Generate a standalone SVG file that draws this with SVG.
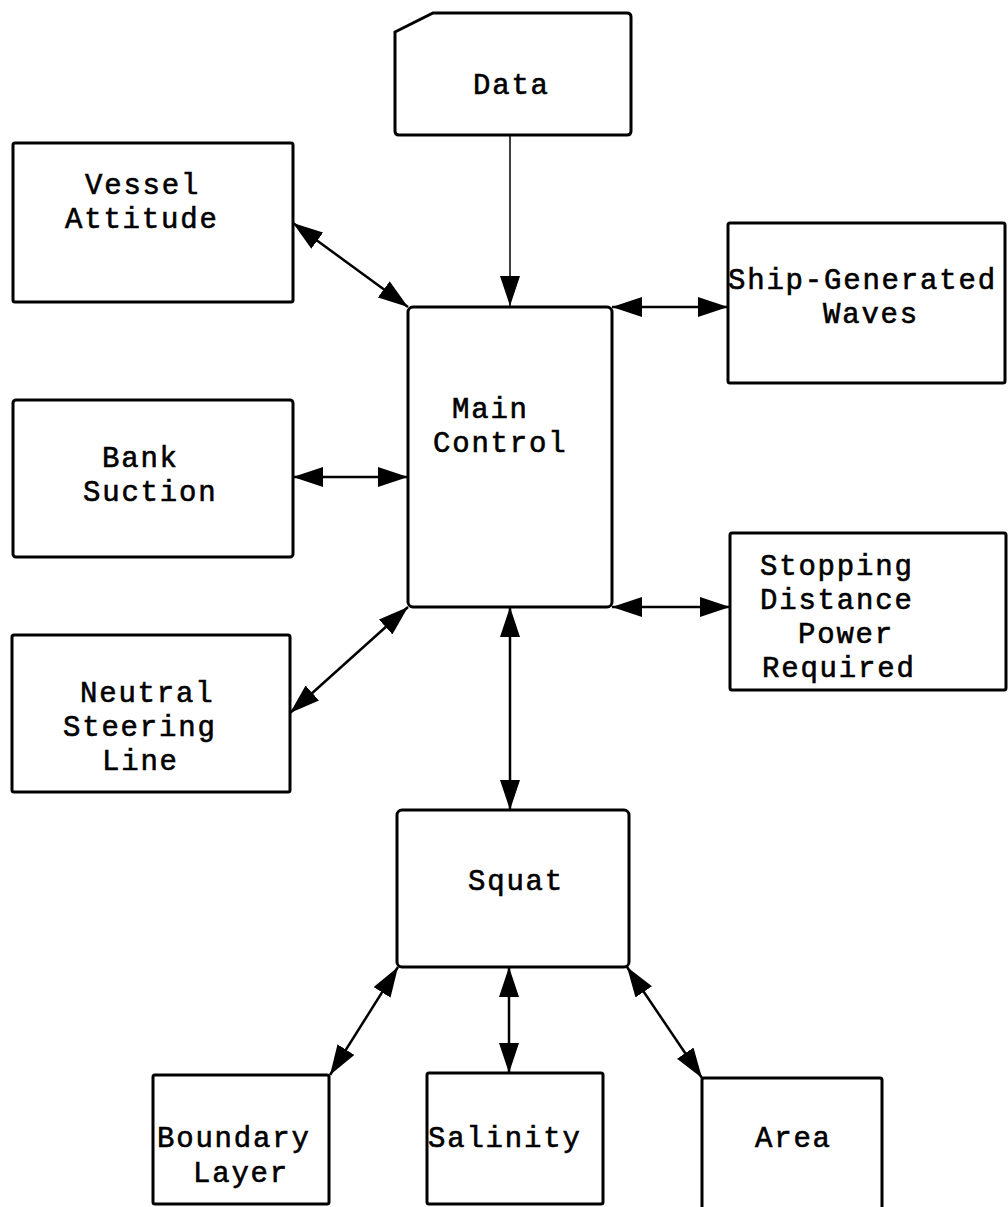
<svg xmlns="http://www.w3.org/2000/svg" width="1008" height="1207" viewBox="0 0 1008 1207">
<style>
.box{fill:#fff;stroke:#000;stroke-width:3}
.t{font-family:"Liberation Mono","Courier New",monospace;font-size:29px;letter-spacing:1.8px;fill:#000;stroke:#000;stroke-width:0.6}
.c{fill:none;stroke:#000;stroke-width:2.5}
.thin{fill:none;stroke:#000;stroke-width:1.5}
</style>
<defs>
<marker id="ah" markerUnits="userSpaceOnUse" markerWidth="30" markerHeight="20" viewBox="0 0 30 20" refX="30" refY="10" orient="auto-start-reverse">
<path d="M0,0 L30,10 L0,20 Z" fill="#000"/>
</marker>
</defs>
<rect width="1008" height="1207" fill="#fff"/>
<g id="connectors">
<line class="thin" x1="510" y1="135" x2="510" y2="306" marker-end="url(#ah)"/>
<line class="c" x1="293" y1="223" x2="408" y2="307" marker-start="url(#ah)" marker-end="url(#ah)"/>
<line class="c" x1="293" y1="477" x2="408" y2="477" marker-start="url(#ah)" marker-end="url(#ah)"/>
<line class="c" x1="290" y1="713" x2="408" y2="607" marker-start="url(#ah)" marker-end="url(#ah)"/>
<line class="c" x1="612" y1="307" x2="728" y2="307" marker-start="url(#ah)" marker-end="url(#ah)"/>
<line class="c" x1="612" y1="607" x2="730" y2="607" marker-start="url(#ah)" marker-end="url(#ah)"/>
<line class="c" x1="510" y1="607" x2="510" y2="810" marker-start="url(#ah)" marker-end="url(#ah)"/>
<line class="c" x1="398" y1="967" x2="330" y2="1075" marker-start="url(#ah)" marker-end="url(#ah)"/>
<line class="c" x1="509" y1="967" x2="509" y2="1073" marker-start="url(#ah)" marker-end="url(#ah)"/>
<line class="c" x1="627" y1="967" x2="702" y2="1078" marker-start="url(#ah)" marker-end="url(#ah)"/>
</g>
<g id="data">
<path class="box" d="M395,32 L433,13 L627,13 Q631,13 631,17 L631,131 Q631,135 627,135 L399,135 Q395,135 395,131 Z"/>
<text class="t" x="473" y="94">Data</text>
</g>
<g id="vessel-attitude">
<rect class="box" x="13" y="143" width="280" height="159" rx="2"/>
<text class="t" x="85" y="194">Vessel</text>
<text class="t" x="65" y="228">Attitude</text>
</g>
<g id="main-control">
<rect class="box" x="408" y="307" width="204" height="300" rx="5"/>
<text class="t" x="452" y="418">Main</text>
<text class="t" x="433" y="452">Control</text>
</g>
<g id="ship-generated-waves">
<rect class="box" x="728" y="223" width="277" height="160" rx="2"/>
<text class="t" x="728" y="289">Ship-Generated</text>
<text class="t" x="823" y="323">Waves</text>
</g>
<g id="bank-suction">
<rect class="box" x="13" y="400" width="280" height="157" rx="3"/>
<text class="t" x="102" y="467">Bank</text>
<text class="t" x="83" y="501">Suction</text>
</g>
<g id="neutral-steering-line">
<rect class="box" x="12" y="635" width="278" height="157" rx="2"/>
<text class="t" x="80" y="702">Neutral</text>
<text class="t" x="63" y="736">Steering</text>
<text class="t" x="102" y="770">Line</text>
</g>
<g id="stopping-distance">
<rect class="box" x="730" y="533" width="276" height="157" rx="2"/>
<text class="t" x="760" y="575">Stopping</text>
<text class="t" x="760" y="609">Distance</text>
<text class="t" x="798" y="643">Power</text>
<text class="t" x="762" y="677">Required</text>
</g>
<g id="squat">
<rect class="box" x="397" y="810" width="232" height="157" rx="5"/>
<text class="t" x="468" y="890">Squat</text>
</g>
<g id="boundary-layer">
<rect class="box" x="153" y="1075" width="176" height="129" rx="2"/>
<text class="t" x="157" y="1147">Boundary</text>
<text class="t" x="193" y="1182">Layer</text>
</g>
<g id="salinity">
<rect class="box" x="427" y="1073" width="176" height="131" rx="2"/>
<text class="t" x="428" y="1147">Salinity</text>
</g>
<g id="area">
<rect class="box" x="702" y="1078" width="180" height="140" rx="2"/>
<text class="t" x="755" y="1147">Area</text>
</g>
</svg>
